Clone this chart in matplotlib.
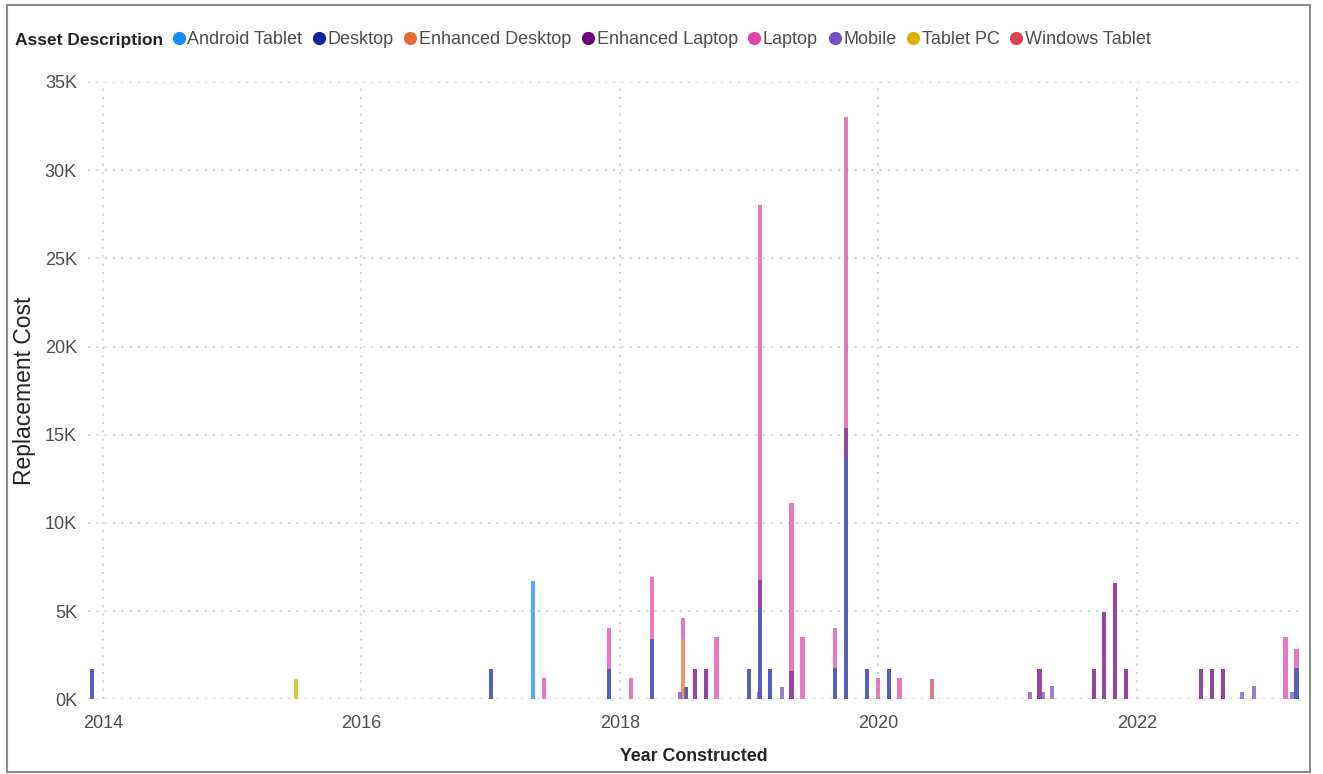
import matplotlib
matplotlib.use('Agg')
import matplotlib.pyplot as plt
import matplotlib.dates as mdates
import numpy as np
import pandas as pd
from matplotlib.lines import Line2D
from matplotlib.patches import Rectangle
from matplotlib.ticker import FuncFormatter, MultipleLocator

plt.rcParams['font.family'] = ['Liberation Sans', 'DejaVu Sans']

# --- data: replacement cost per construction date, split by asset type ---
dates = [
    '2013-12-01', '2015-07-01', '2017-01-01', '2017-05-01', '2017-06-01',
    '2017-12-01', '2018-02-01', '2018-04-01', '2018-06-19', '2018-06-28',
    '2018-07-06', '2018-08-01', '2018-09-01', '2018-10-01', '2019-01-01',
    '2019-01-30', '2019-02-01', '2019-03-01', '2019-04-05', '2019-05-01',
    '2019-06-01', '2019-09-01', '2019-10-01', '2019-12-01', '2020-01-01',
    '2020-02-01', '2020-03-01', '2020-06-01', '2021-03-05', '2021-04-01',
    '2021-04-10', '2021-05-06', '2021-09-01', '2021-10-01', '2021-11-01',
    '2021-12-01', '2022-07-01', '2022-08-01', '2022-09-01', '2022-10-25',
    '2022-11-28', '2023-02-25', '2023-03-16', '2023-03-28',
]

android_tablet = [0, 0, 0, 6700, 0, 0, 0, 0, 0, 0,
                  0, 0, 0, 0, 0, 0, 0, 0, 0, 0,
                  0, 0, 0, 0, 0, 0, 0, 0, 0, 0,
                  0, 0, 0, 0, 0, 0, 0, 0, 0, 0,
                  0, 0, 0, 0]
desktop = [1720, 0, 1720, 0, 0, 1720, 0, 3420, 0, 0,
           720, 0, 0, 0, 1700, 0, 5100, 1700, 0, 0,
           0, 1750, 13700, 1700, 0, 1700, 0, 0, 0, 0,
           0, 0, 0, 0, 0, 0, 0, 0, 0, 0,
           0, 0, 0, 1770]
enhanced_desktop = [0, 0, 0, 0, 0, 0, 0, 0, 0, 3420,
                    0, 0, 0, 0, 0, 0, 0, 0, 0, 0,
                    0, 0, 0, 0, 0, 0, 0, 0, 0, 0,
                    0, 0, 0, 0, 0, 0, 0, 0, 0, 0,
                    0, 0, 0, 0]
enhanced_laptop = [0, 0, 0, 0, 0, 0, 0, 0, 0, 0,
                   0, 1700, 1700, 0, 0, 0, 1650, 0, 0, 1620,
                   0, 0, 1700, 0, 0, 0, 0, 0, 0, 1700,
                   0, 0, 1700, 4950, 6600, 1700, 1700, 1700, 1700, 0,
                   0, 0, 0, 0]
laptop = [0, 0, 0, 0, 1200, 2350, 1200, 3530, 0, 1200,
          0, 0, 0, 3520, 0, 0, 21250, 0, 0, 9510,
          3520, 2320, 17630, 0, 1200, 0, 1200, 0, 0, 0,
          0, 0, 0, 0, 0, 0, 0, 0, 0, 0,
          0, 3560, 0, 1100]
mobile = [0, 0, 0, 0, 0, 0, 0, 0, 420, 0,
          0, 0, 0, 0, 0, 400, 0, 0, 720, 0,
          0, 0, 0, 0, 0, 0, 0, 0, 400, 0,
          430, 770, 0, 0, 0, 0, 0, 0, 0, 400,
          770, 0, 430, 0]
tablet_pc = [0, 1160, 0, 0, 0, 0, 0, 0, 0, 0,
             0, 0, 0, 0, 0, 0, 0, 0, 0, 0,
             0, 0, 0, 0, 0, 0, 0, 0, 0, 0,
             0, 0, 0, 0, 0, 0, 0, 0, 0, 0,
             0, 0, 0, 0]
windows_tablet = [0, 0, 0, 0, 0, 0, 0, 0, 0, 0,
                  0, 0, 0, 0, 0, 0, 0, 0, 0, 0,
                  0, 0, 0, 0, 0, 0, 0, 1160, 0, 0,
                  0, 0, 0, 0, 0, 0, 0, 0, 0, 0,
                  0, 0, 0, 0]

series_names = ['Android Tablet', 'Desktop', 'Enhanced Desktop', 'Enhanced Laptop',
                'Laptop', 'Mobile', 'Tablet PC', 'Windows Tablet']
series_colors = ['#118DFF', '#12239E', '#E66C37', '#6B007B',
                 '#E044A7', '#744EC2', '#D9B300', '#D64550']

df = pd.DataFrame({
    'Android Tablet': android_tablet,
    'Desktop': desktop,
    'Enhanced Desktop': enhanced_desktop,
    'Enhanced Laptop': enhanced_laptop,
    'Laptop': laptop,
    'Mobile': mobile,
    'Tablet PC': tablet_pc,
    'Windows Tablet': windows_tablet,
}, index=pd.to_datetime(dates))

TEXT_DARK = '#252423'
TEXT_GRAY = '#4f4d4b'
GRID = '#d4d4d4'


def main():
    W, H = 1323, 774
    fig = plt.figure(figsize=(W / 100, H / 100), dpi=100)
    ax = fig.add_axes([88 / W, 1 - 699.3 / H, (1300 - 88) / W, (699.3 - 82) / H])

    # stacked columns on a continuous date axis
    bottom = np.zeros(len(df))
    for name, color in zip(series_names, series_colors):
        vals = df[name].to_numpy(dtype=float)
        mask = vals > 0
        ax.bar(df.index[mask], vals[mask], bottom=bottom[mask], width=12,
               color=color, alpha=0.72, linewidth=0, zorder=3)
        bottom += vals

    ax.set_ylim(0, 35000)
    ax.set_xlim(pd.Timestamp('2013-11-20'), pd.Timestamp('2023-04-07'))

    ax.yaxis.set_major_locator(MultipleLocator(5000))
    ax.yaxis.set_major_formatter(FuncFormatter(lambda v, _: f'{int(v / 1000)}K'))
    ax.xaxis.set_major_locator(mdates.YearLocator(2))
    ax.xaxis.set_major_formatter(mdates.DateFormatter('%Y'))

    ax.grid(True, color=GRID, linestyle=(0, (1, 3)), linewidth=1.5, zorder=0)
    for s in ax.spines.values():
        s.set_visible(False)
    ax.tick_params(axis='both', length=0, labelsize=13, labelcolor=TEXT_GRAY)
    ax.tick_params(axis='x', pad=11)
    ax.tick_params(axis='y', pad=8)

    ax.set_xlabel('Year Constructed', fontsize=12.8, fontweight='bold', color=TEXT_DARK)
    ax.xaxis.set_label_coords(0.5, -0.079)
    ax.set_ylabel('Replacement Cost', fontsize=16.5, color=TEXT_DARK)
    ax.yaxis.set_label_coords(-0.043, 0.5)

    # legend row across the top
    fig.text(15 / W, 1 - 40 / H, 'Asset Description', fontsize=12.5, fontweight='bold',
             color=TEXT_DARK, ha='left', va='center')
    handles = [Line2D([], [], marker='o', linestyle='none', markersize=9.5,
                      markerfacecolor=c, markeredgewidth=0) for c in series_colors]
    fig.legend(handles, series_names, loc='center left',
               bbox_to_anchor=(172 / W, 1 - 40 / H), ncol=len(series_names),
               frameon=False, fontsize=13, handlelength=0.75, handletextpad=0.1,
               columnspacing=0.55, borderaxespad=0, borderpad=0, labelcolor=TEXT_GRAY)

    # visual border
    fig.patches.append(Rectangle((7 / W, 2 / H), (1310 - 7) / W, (769 - 2) / H,
                                 transform=fig.transFigure, fill=False,
                                 edgecolor='#8c8c8c', linewidth=1.5))

    fig.savefig('out.png', dpi=100)


if __name__ == '__main__':
    main()
